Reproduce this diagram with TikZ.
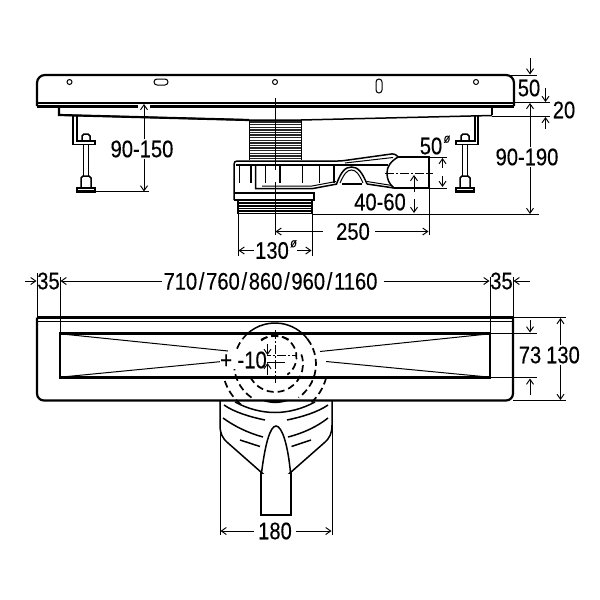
\documentclass[tikz,border=0pt]{standalone}
\usepackage{fontspec}
\setmainfont[FakeStretch=0.84,FakeBold=0.25]{Liberation Sans}
\usetikzlibrary{arrows.meta,positioning,calc}

\newcommand{\sizesep}{\kern1.7pt/\kern1.7pt}

\tikzset{
  part/.style={line width=1.5pt, black},
  heavy/.style={line width=2.2pt, black},
  thin part/.style={line width=1pt, black},
  extline/.style={line width=0.95pt, black},
  dimarrow/.style={line width=0.95pt, black, -{Straight Barb[length=5pt,width=7pt]}},
  axis/.style={line width=0.9pt, black, dash pattern=on 9pt off 2pt on 2pt off 2pt},
  hidden/.style={line width=1.7pt, black, dash pattern=on 7pt off 4pt},
  dimtext/.style={font=\fontsize{24}{24}\selectfont, inner sep=1pt},
  smalltext/.style={font=\fontsize{13}{13}\selectfont\itshape, inner sep=0pt}
}

\begin{document}
\begin{tikzpicture}[x=1pt,y=-1pt]
\useasboundingbox (0,0) rectangle (600,600);
\fill[white] (0,0) rectangle (600,600);

% Side view: plate
\draw[heavy, rounded corners=8pt] (37,106) -- (37,75) -- (514,75) -- (514,106);
\draw[heavy] (37,103) -- (514,103);
\draw[heavy] (37,106.5) -- (514,106.5);
\draw[thin part] (69.5,82) circle (2.5);
\draw[thin part] (275,82) circle (2.5);
\draw[thin part] (476,82) circle (2.5);
\draw[thin part, rounded corners=3pt] (154,79) rectangle (168,85);
\draw[thin part, rounded corners=3pt] (376,79) rectangle (382,93);

% Side view: channel under the plate
\draw[heavy] (59,106) -- (59,115) -- (249,120);
\draw[heavy] (492,106) -- (492,115);
\draw[part] (59,115) -- (249,120) -- (301,120) -- (492,115.5);

% Left foot
\draw[part] (73,116) -- (73,144.5) -- (95,144.5) -- (95,141) -- (77,141) -- (77,116);
\draw[part] (83.5,145) -- (83.5,176) (88.5,145) -- (88.5,176);
\draw[part] (82,141) -- (82,136) -- (84,134) -- (88,134) -- (90,136) -- (90,141);
\draw[part, fill=white] (81,188) -- (81,178) -- (83,176) -- (89,176) -- (91,178) -- (91,188);
\draw[heavy, fill=white] (77,188) rectangle (95,191.5);

% Right foot
\draw[part] (478,116) -- (478,144.5) -- (456,144.5) -- (456,141) -- (475,141) -- (475,116);
\draw[part] (462.5,145) -- (462.5,176) (467.5,145) -- (467.5,176);
\draw[part] (461,141) -- (461,136) -- (463,134) -- (467,134) -- (469,136) -- (469,141);
\draw[part, fill=white] (460,188) -- (460,178) -- (462,176) -- (468,176) -- (470,178) -- (470,188);
\draw[heavy, fill=white] (456,188) rectangle (474,191.5);

% Thread between channel and trap
\draw[thin part] (249,120) -- (249,160) (301,120) -- (301,160);
\foreach \ty in {122,124.6,...,160} {
  \draw[line width=1.4pt, black!85] (249.5,\ty) -- (300.5,\ty);
}

% Trap body
\draw[part, rounded corners=3pt] (234,200) -- (234,161) -- (341,161) -- (395,153.5) -- (398,157);
\draw[part] (236,165) -- (388,165);
\draw[thin part] (345,163) -- (393,157.5);
\foreach \rx in {239.5,251,265.5,280,302.5,319.5,334} {
  \draw[part] (\rx,165) -- (\rx,183);
}
\draw[part] (255.5,165) -- (255.5,188.5) -- (313,188.5) -- (337,184);
\draw[thin part] (262,186) -- (312,186) -- (336,181.5);
\draw[part] (336.5,184) .. controls (341,172) and (345,167) .. (351.5,167) .. controls (358,167) and (362,172) .. (367,184);
\draw[thin part] (340,183) .. controls (344,174) and (347,170) .. (351.5,170) .. controls (356,170) and (359,174) .. (363,183);
\draw[part] (342,184) -- (362,184);
\draw[part] (367,184) -- (394,188);
\draw[thin part] (367,181.5) -- (392,185.5);
\draw[part] (398,157) -- (429,157) -- (429,188) -- (394,188);
\draw[part] (398,157) .. controls (390,162) and (387,167) .. (387,173) .. controls (387,179) and (389,184) .. (394,188);
\draw[part] (234,193) -- (314,193) -- (314,200) -- (234,200);
\foreach \ty in {203,206,208.5,211,213.5} {
  \draw[part] (238,\ty) -- (312,\ty);
}
\draw[part] (238,200) -- (238,214) (312,200) -- (312,214);

% Side view: centre lines
\draw[thin part] (275,98) -- (275,235);
\fill[white] (273,170) rectangle (277,182);
\draw[axis] (385,173.5) -- (433,173.5);

% Side view: extension lines
\draw[extline] (92,191.5) -- (149,191.5);
\draw[extline] (510,75) -- (537,75);
\draw[extline] (514,102.5) -- (550,102.5);
\draw[extline] (492,116.5) -- (550,116.5);
\draw[extline] (313,214) -- (539,214);
\draw[extline] (429,157) -- (447,157);
\draw[extline] (429,188) -- (447,188);
\draw[extline] (429,188) -- (429,235);
\draw[extline] (238,214) -- (238,256);
\draw[extline] (312,214) -- (312,256);

% Side view: dimensions
\coordinate (tipA) at (144,104);
\coordinate (tipB) at (144,191.5);
\fill[white] (138,105) rectangle (150,108.5);
\node[dimtext] (lblHeightFoot) at (142,149) {90-150};
\draw[dimarrow] (lblHeightFoot.north -| tipA) -- (tipA);
\draw[dimarrow] (lblHeightFoot.south -| tipA) -- (tipB);

\coordinate (tipC) at (530,103);
\coordinate (tipD) at (530,214);
\node[dimtext] (lblHeightAll) at (527,157) {90-190};
\draw[dimarrow] (lblHeightAll.north -| tipC) -- (tipC);
\draw[dimarrow] (lblHeightAll.south -| tipC) -- (tipD);

\coordinate (tipE) at (530,74.5);
\coordinate (tailE) at (530,58);
\node[dimtext] (lblPlate) at (529,88) {50};
\draw[dimarrow] (tailE) -- (tipE);
\coordinate (tailF) at (545.5,88);
\coordinate (tipF) at (545.5,102);
\draw[dimarrow] (tailF) -- (tipF);

\node[dimtext] (lblLip) at (564,110) {20};
\coordinate (tailG) at (545.5,129);
\coordinate (tipG) at (545.5,117);
\draw[dimarrow] (tailG) -- (tipG);

\node[dimtext] (lblPipe) at (431,146) {50};
\node[smalltext, right=0pt of lblPipe.north east, yshift=-3pt] (lblPipeDia) {ø};
\coordinate (tailH) at (442.5,168);
\coordinate (tipH) at (442.5,158);
\draw[dimarrow] (tailH) -- (tipH);
\coordinate (tailI) at (442.5,176);
\coordinate (tipI) at (442.5,187);
\draw[dimarrow] (tailI) -- (tipI);

\node[dimtext] (lblDrop) at (380,202) {40-60};
\coordinate (tailJ) at (414,192);
\coordinate (tipJ) at (414,175);
\draw[dimarrow] (tailJ) -- (tipJ);
\coordinate (tailK) at (414,199);
\coordinate (tipK) at (414,213);
\draw[dimarrow] (tailK) -- (tipK);

\node[dimtext] (lblOffset) at (353,231.5) {250};
\coordinate (tipL) at (275.5,231.5);
\coordinate (tipM) at (428.5,231.5);
\draw[dimarrow] (lblOffset.west) ++(-12,0) -- (tipL);
\draw[dimarrow] (lblOffset.east) ++(4,0) -- (tipM);

\node[dimtext] (lblBore) at (272,250.5) {130};
\node[smalltext, right=0pt of lblBore.north east, yshift=-3pt] (lblBoreDia) {ø};
\coordinate (tipN) at (238.5,250.5);
\coordinate (tipO) at (311.5,250.5);
\coordinate (tailO) at (297,250.5);
\draw[dimarrow] (lblBore.west) -- (tipN);
\draw[dimarrow] (tailO) -- (tipO);

% Top view: bowl below the plate
\draw[part, line join=round] (220,400) -- (220,425) .. controls (220,433) and (222,438) .. (228,443) -- (270,480) .. controls (274,484.5) and (278,484.5) .. (282,480) -- (324,443) .. controls (330,438) and (332,433) .. (332,425) -- (332,400);
\fill[white] (261,474) rectangle (291,515);
\draw[part] (261,472) -- (261,515) -- (291,515) -- (291,472);
\draw[part] (261.5,473) .. controls (265,445) and (270,426) .. (276,426) .. controls (282,426) and (288,445) .. (290.5,473);
\draw[part] (235,402) .. controls (248,409) and (262,412.5) .. (275,412.5) .. controls (288,412.5) and (302,409) .. (315,402);
\draw[part] (224,405) .. controls (234,412) and (250,417) .. (265,420);
\draw[part] (328,405) .. controls (318,412) and (302,417) .. (287,420);
\draw[part] (223,418) .. controls (234,426) and (248,433) .. (263,437);
\draw[part] (328,418) .. controls (318,426) and (304,433) .. (288,437);
\draw[part] (240,440) -- (260,446.5);
\draw[part] (311,440) -- (291.5,446.5);
\fill[black] (262,400.5) .. controls (270,404) and (280,404) .. (289,400.5) -- cycle;

% Top view: plate
\draw[heavy, rounded corners=7pt] (37,317.5) -- (37,400.5) -- (513,400.5) -- (513,317.5);
\draw[heavy] (37,317.5) -- (513,317.5);
\draw[part] (37,321.5) -- (513,321.5);
\draw[heavy] (60,333.5) rectangle (490,377.5);
\draw[thin part] (62,334) -- (228,351);
\draw[thin part] (62,377) -- (222,361.5);
\draw[thin part] (488,334) -- (320,351.5);
\draw[thin part] (488,377) -- (326,361.5);

% Top view: circles
\draw[part] (275,364) ++(-142:41) arc[start angle=-142,end angle=-38,radius=41];
\draw[hidden] (275,364) ++(-38:41) arc[start angle=-38,end angle=55,radius=41];
\draw[hidden] (275,364) ++(125:41) arc[start angle=125,end angle=218,radius=41];
\draw[hidden] (275,364) ++(-120:28) arc[start angle=-120,end angle=-60,radius=28];
\draw[hidden] (275,364) ++(-20:28) arc[start angle=-20,end angle=160,radius=28];
\draw[hidden] (275,357) ++(-130:21.5) arc[start angle=-130,end angle=55,radius=21.5];
\draw[hidden] (275,364) ++(15:53) arc[start angle=15,end angle=50,radius=53];
\draw[hidden] (275,364) ++(130:53) arc[start angle=130,end angle=165,radius=53];

% Top view: centre lines
\draw[axis] (275,330) -- (275,383);
\draw[axis] (262,355.5) -- (297,355.5);
\draw[thin part] (262,362.5) -- (285,362.5);

% Top view: extension lines
\draw[extline] (37,273) -- (37,317);
\draw[extline] (60,277) -- (60,333);
\draw[extline] (490,277) -- (490,333);
\draw[extline] (513,277) -- (513,317);
\draw[extline] (490,333.5) -- (537,333.5);
\draw[extline] (490,377.5) -- (537,377.5);
\draw[extline] (513,317.5) -- (566,317.5);
\draw[extline] (513,400.5) -- (566,400.5);
\draw[extline] (220,400) -- (220,535);
\draw[extline] (332,400) -- (332,535);

% Top view: dimensions
\node[dimtext] (lblLength) at (270.5,281) {710\sizesep 760\sizesep 860\sizesep 960\sizesep 1160};
\node[dimtext] (lblEndL) at (48.5,281) {35};
\node[dimtext] (lblEndR) at (501.5,281) {35};
\coordinate (tailP) at (25,281);
\coordinate (tipP) at (36.5,281);
\coordinate (tipQ) at (60.5,281);
\coordinate (tipR) at (489.5,281);
\coordinate (tipS) at (513.5,281);
\coordinate (tailS) at (530,281);
\draw[dimarrow] (tailP) -- (tipP);
\draw[dimarrow] (lblLength.west) -- (tipQ);
\draw[dimarrow] (lblLength.east) ++(5,0) -- (tipR);
\draw[dimarrow] (tailS) -- (tipS);

\node[dimtext] (lblSlot) at (530,355) {73};
\coordinate (tailT) at (530,320);
\coordinate (tipT) at (530,332.5);
\coordinate (tailU) at (530,395);
\coordinate (tipU) at (530,378.5);
\draw[dimarrow] (tailT) -- (tipT);
\draw[dimarrow] (tailU) -- (tipU);

\node[dimtext] (lblWidth) at (563,355) {130};
\coordinate (tipV) at (560.5,318);
\coordinate (tipW) at (560.5,400);
\draw[dimarrow] (lblWidth.north -| tipV) -- (tipV);
\draw[dimarrow] (lblWidth.south -| tipV) -- (tipW);

\node[dimtext, fill=white, inner sep=0pt] (lblTen) at (243.5,360) {+ -10};
\coordinate (tailX) at (267.5,344);
\coordinate (tipX) at (267.5,355);
\coordinate (tailY) at (267.5,375);
\coordinate (tipY) at (267.5,363);
\draw[dimarrow] (tailX) -- (tipX);
\draw[dimarrow] (tailY) -- (tipY);

\node[dimtext] (lblBowl) at (275,531) {180};
\coordinate (tipZ) at (220.5,531);
\coordinate (tipZZ) at (331.5,531);
\draw[dimarrow] (lblBowl.west) ++(-3,0) -- (tipZ);
\draw[dimarrow] (lblBowl.east) ++(3,0) -- (tipZZ);
\end{tikzpicture}
\end{document}
